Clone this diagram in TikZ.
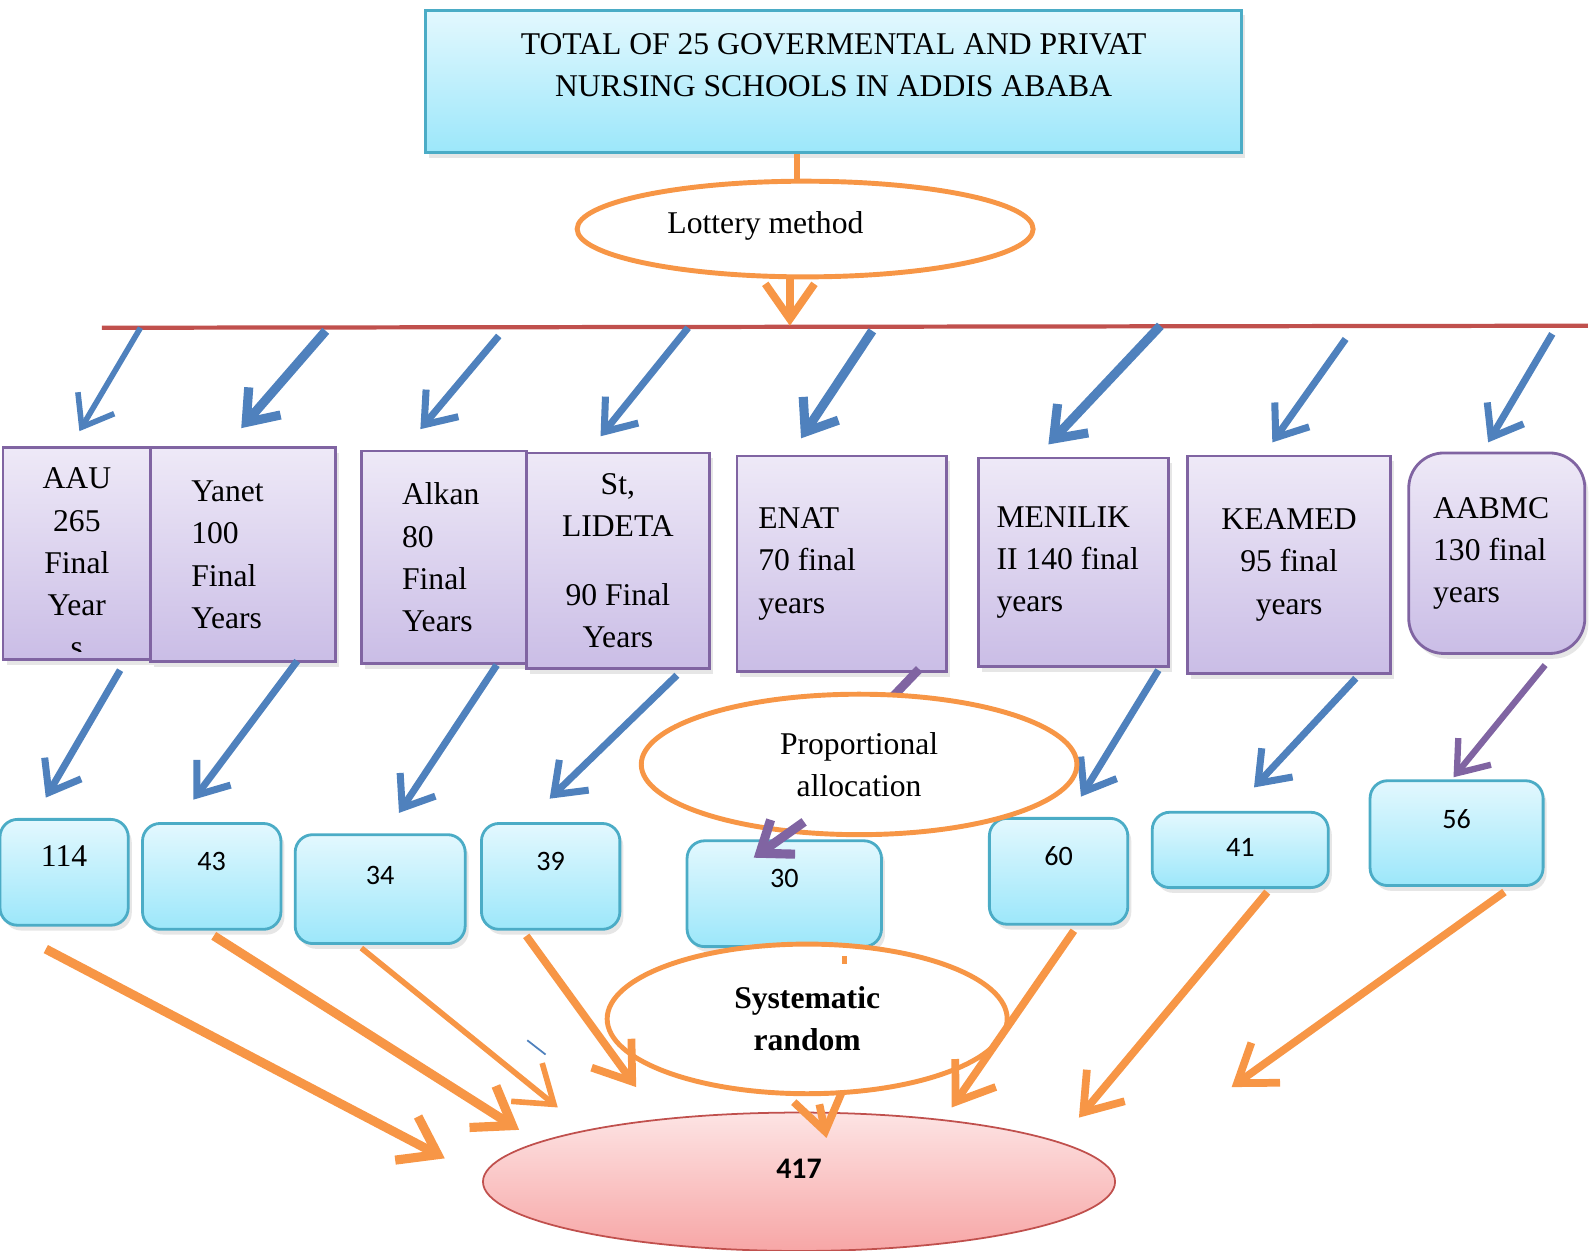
\documentclass[tikz,border=0pt]{standalone}
\usepackage{fontspec}
\setmainfont{Liberation Serif}
\newfontfamily\calibri{Carlito}
\usepackage{tikz}
\usetikzlibrary{shapes.geometric,arrows.meta,shadows}
\definecolor{schoolline}{HTML}{8064A2}
\definecolor{schooltop}{HTML}{EEE9F7}
\definecolor{schoolbottom}{HTML}{CABDE6}
\definecolor{countline}{HTML}{4BACC6}
\definecolor{counttop}{HTML}{E3F8FE}
\definecolor{countbottom}{HTML}{9CE7FA}
\definecolor{ringline}{HTML}{F79646}
\definecolor{railred}{HTML}{C0504D}
\definecolor{arrowblue}{HTML}{4F81BD}
\definecolor{arrowpurple}{HTML}{8064A2}
\definecolor{sampletop}{HTML}{FDE4E4}
\definecolor{samplebottom}{HTML}{F7A6A6}
\newlength\pxu
\setlength\pxu{0.010179cm}

\begin{document}
\begin{tikzpicture}[x=\pxu,y=-\pxu,font=\fontsize{9}{12}\selectfont,
  school/.style={draw=schoolline,line width=0.8pt,top color=schooltop,bottom color=schoolbottom,
    inner sep=0pt,drop shadow={opacity=0.2,shadow xshift=1pt,shadow yshift=-1.5pt}},
  topbox/.style={draw=countline,line width=0.8pt,top color=counttop,bottom color=countbottom,
    drop shadow={opacity=0.2,shadow xshift=1pt,shadow yshift=-1.5pt}},
  count/.style={draw=countline,line width=0.8pt,rounded corners=5pt,top color=counttop,bottom color=countbottom,
    inner sep=0pt,text height=46\pxu,text depth=58\pxu,anchor=base,font=\calibri\fontsize{8}{10}\selectfont,
    drop shadow={opacity=0.2,shadow xshift=1pt,shadow yshift=-1.5pt}},
  ring/.style={ellipse,draw=ringline,line width=1.4pt,fill=white,inner sep=0pt,align=center},
  sampleshape/.style={ellipse,draw=railred,line width=0.5pt,top color=sampletop,bottom color=samplebottom,inner sep=0pt},
  rail/.style={draw=railred,line width=1.2pt},
  orangeline/.style={draw=ringline,line width=1.5pt},
  orangearrow/.style={draw=ringline,line width=2.2pt,-{Straight Barb[length=10pt,width=14pt]}},
  bluearrow/.style={draw=arrowblue,line width=2pt,-{Straight Barb[length=8pt,width=12pt]}},
  purplearrow/.style={draw=arrowpurple,line width=1.8pt,-{Straight Barb[length=8pt,width=12pt]}},
  thin/.style={line width=1.6pt},
  heavy/.style={line width=2.6pt}]
\useasboundingbox (0,0) rectangle (1568,1229);

\coordinate (railwest) at (100,322);
\coordinate (raileast) at (1560,320);
\draw[rail] (railwest) -- (raileast);

\node (total) [topbox, minimum width=802\pxu, minimum height=140\pxu] at (819,80) {};
\node (totaltext) [align=center] at (819,64) {TOTAL OF 25 GOVERMENTAL AND PRIVAT\\NURSING SCHOOLS IN ADDIS ABABA};

\node (lottery) [ring, minimum width=448\pxu, minimum height=94\pxu] at (791,225) {};
\node (lotterytext) at (752,222) {Lottery method};
\draw[orangeline] ([shift={(-36,0)}]total.south) -- ([shift={(-8,0)}]lottery.north);
\coordinate (railin) at (776,320);
\draw[orangearrow] ([shift={(-15,0)}]lottery.south) -- (railin);

\node (aau) [school, minimum width=145\pxu, minimum height=208\pxu] at (75.5,544) {};
\begin{scope}
\clip (3,440) rectangle (148,640);
\node (aautext) [align=center] at (75.5,553) {AAU\\265\\Final\\Year\\s};
\end{scope}
\node (yanet) [school, minimum width=182\pxu, minimum height=210\pxu, text width=102\pxu, inner xsep=40\pxu, align=flush left] at (239,545) {Yanet\\100\\Final\\Years};
\node (alkan) [school, minimum width=162\pxu, minimum height=209\pxu, text width=82\pxu, inner xsep=40\pxu, align=flush left] at (436,547.5) {Alkan\\80\\Final\\Years};
\node (lideta) [school, minimum width=180\pxu, minimum height=212\pxu, align=center] at (607,551) {St,\\LIDETA\\[7.5pt]90 Final\\Years};
\node (enat) [school, minimum width=206\pxu, minimum height=212\pxu, text width=164\pxu, inner xsep=21\pxu, align=flush left] at (827,554) {ENAT\\70 final\\years};
\node (menilik) [school, minimum width=187\pxu, minimum height=205\pxu, text width=151\pxu, inner xsep=18\pxu, align=flush left] at (1054.5,552.5) {MENILIK\\II 140 final\\years};
\node (keamed) [school, minimum width=199\pxu, minimum height=214\pxu, align=center] at (1266.5,555) {KEAMED\\95 final\\years};
\node (aabmc) [school, rounded corners=10pt, minimum width=173\pxu, minimum height=197\pxu, text width=125\pxu, inner xsep=24\pxu, align=flush left] at (1470.5,543.5) {AABMC\\130 final\\years};

\coordinate (rail1) at (138,322);
\coordinate (rail2) at (320,325);
\coordinate (rail3) at (490,330);
\coordinate (rail4) at (676,322);
\coordinate (rail5) at (857,325);
\coordinate (rail6) at (1140,320);
\coordinate (rail7) at (1322,333);
\coordinate (rail8) at (1525,328);
\draw[bluearrow, thin] (rail1) -- ([shift={(2.5,-15)}]aau.north);
\draw[bluearrow, heavy] (rail2) -- ([shift={(-2,-18)}]yanet.north);
\draw[bluearrow] (rail3) -- ([shift={(-23,-20)}]alkan.north);
\draw[bluearrow] (rail4) -- ([shift={(-17,-15)}]lideta.north);
\draw[bluearrow, heavy] (rail5) -- ([shift={(-40,-16)}]enat.north);
\draw[bluearrow, heavy] (rail6) -- ([shift={(-24.5,-12)}]menilik.north);
\draw[bluearrow] (rail7) -- ([shift={(-16.5,-12)}]keamed.north);
\draw[bluearrow] (rail8) -- ([shift={(-8.5,-9)}]aabmc.north);

\node (c114) [count, font=\fontsize{9}{11}\selectfont, minimum width=126\pxu] at (63,851) {114};
\node (c43) [count, minimum width=136\pxu] at (208,855) {43};
\node (c34) [count, minimum width=167\pxu, text height=49\pxu] at (373.5,869) {34};
\node (c39) [count, minimum width=136\pxu] at (541,855) {39};
\node (c30) [count, minimum width=191\pxu] at (770.5,872) {30};
\node (c60) [count, minimum width=136\pxu] at (1040,850) {60};
\node (c41) [count, minimum width=173\pxu, text height=43\pxu, text depth=31\pxu] at (1218.5,841) {41};
\node (c56) [count, minimum width=170\pxu, text height=47\pxu, text depth=56\pxu] at (1431,814) {56};

\draw[bluearrow] ([shift={(42.5,9)}]aau.south) -- ([shift={(-18,-20)}]c114.north);
\draw[bluearrow] ([shift={(53,-2)}]yanet.south) -- ([shift={(-18,-22)}]c43.north);
\draw[bluearrow] ([shift={(52,0)}]alkan.south) -- ([shift={(18.5,-20)}]c34.north);
\draw[bluearrow] ([shift={(58,5)}]lideta.south) -- ([shift={(-1,-23)}]c39.north);
\coordinate (enatstub) at (866,696);
\draw[arrowpurple, line width=2.5pt] ([shift={(76,-4)}]enat.south) -- (enatstub);
\draw[bluearrow] ([shift={(83.5,2)}]menilik.south) -- ([shift={(22,-20)}]c60.north);
\draw[bluearrow] ([shift={(65.5,3)}]keamed.south) -- ([shift={(13.5,-23)}]c41.north);
\draw[purplearrow] ([shift={(47.5,10)}]aabmc.south) -- ([shift={(-3,-2)}]c56.north);

\node (prop) [ring, minimum width=428\pxu, minimum height=138\pxu] at (844,751) {Proportional\\allocation};
\draw[purplearrow, heavy] ([shift={(-54,-15)}]prop.south) -- ([shift={(-30,18)}]c30.north);

\node (sample) [sampleshape, minimum width=621\pxu, minimum height=136\pxu] at (785,1161) {};
\node (sampletext) [font=\calibri\bfseries\fontsize{8.5}{10}\selectfont] at (785,1148) {417};
\node (systematic) [ring, font=\bfseries\fontsize{9}{12}\selectfont, minimum width=393\pxu, minimum height=147\pxu] at (793,1001) {Systematic\\random};

\draw[orangeline] ([shift={(59.5,8)}]c30.south) -- ([shift={(59.5,16)}]c30.south);
\coordinate (stray) at (518,1022);
\draw[arrowblue, line width=0.5pt] (stray) -- ++(18,14);

\draw[orangearrow, heavy] ([shift={(-18,22)}]c114.south) -- ([shift={(-348,-23)}]sample.center);
\draw[orangearrow, heavy] ([shift={(2,5)}]c43.south) -- ([shift={(-275,-51)}]sample.center);
\draw[orangearrow, thin] ([shift={(-18.5,3)}]c34.south) -- ([shift={(-237,-73)}]sample.center);
\draw[orangearrow] ([shift={(-24,5)}]c39.south) -- ([shift={(-160,-93)}]sample.center);
\draw[orangearrow] ([shift={(12,8)}]systematic.south) -- ([shift={(27,-43)}]sample.center);
\draw[orangearrow] ([shift={(15,5)}]c60.south) -- ([shift={(150,-73)}]sample.center);
\draw[orangearrow] ([shift={(26.5,3)}]c41.south) -- ([shift={(275,-63)}]sample.center);
\draw[orangearrow] ([shift={(47,5)}]c56.south) -- ([shift={(425,-93)}]sample.center);
\end{tikzpicture}
\end{document}
